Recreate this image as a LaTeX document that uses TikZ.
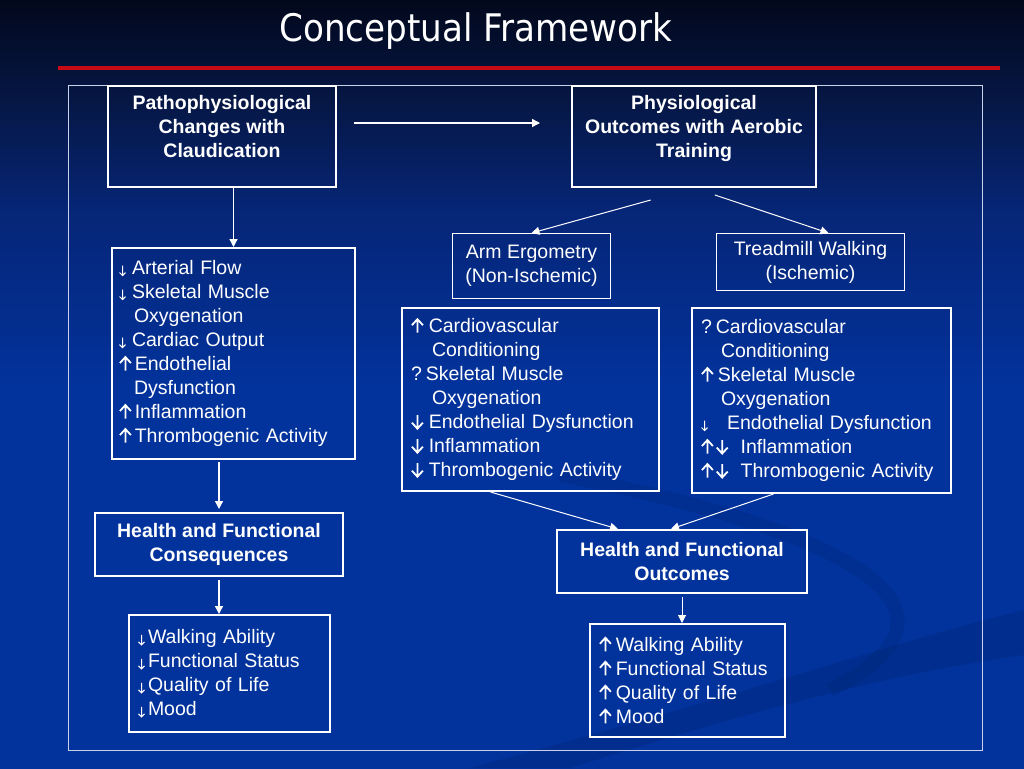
\documentclass[tikz,border=0pt]{standalone}
\usepackage{fontspec}
\setmainfont{Liberation Sans}
\newfontfamily\titlefont{DejaVu Sans Condensed}
\usetikzlibrary{positioning,calc,arrows.meta}
\definecolor{SlideTop}{RGB}{2,8,28}
\definecolor{SlideDark}{RGB}{6,24,72}
\definecolor{SlideMid}{RGB}{6,38,120}
\definecolor{SlideBlue}{RGB}{2,50,155}
\definecolor{RuleRed}{RGB}{200,10,20}
\definecolor{FrameGrey}{RGB}{200,210,235}
% the path fills 25bp..75bp of an axis shading
\pgfdeclareverticalshading{slide shading}{100bp}{%
    color(0bp)=(SlideBlue); color(50bp)=(SlideBlue); color(61bp)=(SlideMid);%
    color(68bp)=(SlideDark); color(75bp)=(SlideTop); color(100bp)=(SlideTop)}
\newcommand\arrup{\tikz[baseline=0pt,x=1pt,y=1pt]\draw[white,line width=1.8pt]
    (0,0) -- (0,13.5) (-5.5,7.5) -- (0,13.5) -- (5.5,7.5);}
\newcommand\arrdn{\tikz[baseline=0pt,x=1pt,y=1pt]\draw[white,line width=1.8pt]
    (0,13.5) -- (0,0) (-5.5,6) -- (0,0) -- (5.5,6);}
\newcommand\arrsdn{\tikz[baseline=0pt,x=1pt,y=1pt]\draw[white,line width=1pt]
    (0,9) -- (0,-1) (-3,2) -- (0,-1) -- (3,2);}
\tikzset{slide layout/.style={%
    x=1pt,%
    y=-1pt,%
    every node/.style={%
        text=white, font=\fontsize{19.5}{24}\selectfont%
    },%
    link/.style={%
        white, line width=1.3pt, -{Triangle[width=8pt,length=8pt]}%
    }%
}}
\tikzset{headbox/.style={%
    draw=white, line width=2pt, anchor=north west, inner sep=0pt%
}}
\tikzset{headtext/.style={%
    anchor=north, align=center, inner ysep=10pt,%
    font=\bfseries\fontsize{19.5}{24}\selectfont%
}}
\tikzset{boldbox/.style={%
    draw=white, line width=2pt, anchor=north west, align=center,%
    font=\bfseries\fontsize{19.5}{24}\selectfont%
}}
\tikzset{listbox/.style={%
    draw=white, line width=2pt, anchor=north west, align=left, inner xsep=9pt%
}}
\tikzset{labelbox/.style={%
    draw=white, line width=1pt, anchor=north west, align=center%
}}
\begin{document}
\begin{tikzpicture}[slide layout]
    \shade[shading=slide shading] (0,0) rectangle (1024,768);
    \useasboundingbox (0,0) rectangle (1024,768);
    \fill[black, opacity=0.08] (1024,610) .. controls (900,640) and (760,690) .. (470,768)
        -- (570,768) .. controls (760,708) and (900,672) .. (1024,655) -- cycle;
    \draw[black, opacity=0.06, line width=14pt] (560,475) .. controls (800,520) and (1010,600) .. (830,690);

    % title and rule
    \node[font=\titlefont\fontsize{38}{40}\selectfont] (title) at (476,31) {Conceptual Framework};
    \draw[RuleRed, line width=3.5pt] (58,68) -- (1000,68);
    \draw[FrameGrey, line width=1pt] (68,85) rectangle (982,750);

    % top row
    \node[headbox, minimum width=228pt, minimum height=101pt,
        label={[headtext]north:Pathophysiological\\Changes with\\Claudication}] (patho) at (107,85) {};
    \node[headbox, minimum width=244pt, minimum height=101pt,
        label={[headtext]north:Physiological\\Outcomes with Aerobic\\Training}] (phys) at (571,85) {};

    % left column
    \node[listbox, inner xsep=7pt, text width=229pt, minimum height=211pt] (leftlist) at (111,247) {%
        \arrsdn\hspace{6pt}Arterial Flow\\
        \arrsdn\hspace{6pt}Skeletal Muscle\\
        \hspace*{15pt}Oxygenation\\
        \arrsdn\hspace{6pt}Cardiac Output\\
        \arrup\hspace{3pt}Endothelial\\
        \hspace*{15pt}Dysfunction\\
        \arrup\hspace{3pt}Inflammation\\
        \arrup\hspace{3pt}Thrombogenic Activity};
    \node[boldbox, minimum width=248pt, minimum height=63pt] (consq) at (94,512)
        {Health and Functional\\Consequences};
    \node[listbox, text width=183pt, minimum height=117pt] (downlist) at (128,614) {%
        \arrsdn\hspace{3pt}Walking Ability\\
        \arrsdn\hspace{3pt}Functional Status\\
        \arrsdn\hspace{3pt}Quality of Life\\
        \arrsdn\hspace{3pt}Mood};

    % training branches
    \node[labelbox, minimum width=158pt, minimum height=65pt] (arm) at (452,233)
        {Arm Ergometry\\(Non-Ischemic)};
    \node[labelbox, minimum width=188pt, minimum height=57pt] (tread) at (716,233)
        {Treadmill Walking\\(Ischemic)};
    \node[listbox, text width=239pt, minimum height=183pt] (midlist) at (401,307) {%
        \arrup\hspace{5pt}Cardiovascular\\
        \hspace*{21pt}Conditioning\\
        ?\hspace{4pt}Skeletal Muscle\\
        \hspace*{21pt}Oxygenation\\
        \arrdn\hspace{5pt}Endothelial Dysfunction\\
        \arrdn\hspace{5pt}Inflammation\\
        \arrdn\hspace{5pt}Thrombogenic Activity};
    \node[listbox, text width=241pt, minimum height=185pt] (rightlist) at (691,307) {%
        ?\hspace{4pt}Cardiovascular\\
        \hspace*{20pt}Conditioning\\
        \arrup\hspace{4pt}Skeletal Muscle\\
        \hspace*{20pt}Oxygenation\\
        \arrsdn\hspace{19pt}Endothelial Dysfunction\\
        \arrup\hspace{2pt}\arrdn\hspace{12pt}Inflammation\\
        \arrup\hspace{2pt}\arrdn\hspace{12pt}Thrombogenic Activity};

    % outcomes
    \node[boldbox, minimum width=250pt, minimum height=63pt] (out) at (556,529)
        {Health and Functional\\Outcomes};
    \node[listbox, text width=177pt, minimum height=113pt] (uplist) at (589,623) {%
        \arrup\hspace{4pt}Walking Ability\\
        \arrup\hspace{4pt}Functional Status\\
        \arrup\hspace{4pt}Quality of Life\\
        \arrup\hspace{4pt}Mood};

    % connectors
    \draw[link, shorten <=17pt, shorten >=31pt] ([yshift=13.5pt]patho.east) -- ([yshift=13.5pt]phys.west);
    \draw[link] (patho.south -| leftlist.north) -- (leftlist.north);
    \draw[link, shorten <=2pt, shorten >=3pt] (leftlist.south -| consq.north) -- (consq.north);
    \draw[link, shorten <=3pt] (consq.south) -- (consq.south |- downlist.north);
    \draw[link, line width=1pt, shorten <=45pt] (phys.south) -- (arm.north);
    \draw[link, line width=1pt, shorten <=22pt] (phys.south) -- ([xshift=18pt]tread.north);
    \draw[link, line width=1pt] ([xshift=-40pt]midlist.south) -- ([xshift=-64pt]out.north);
    \draw[link, line width=1pt] ([xshift=-48pt]rightlist.south) -- ([xshift=-11pt]out.north);
    \draw[link, line width=1pt, shorten <=3pt] (out.south) -- (out.south |- uplist.north);
\end{tikzpicture}
\end{document}
